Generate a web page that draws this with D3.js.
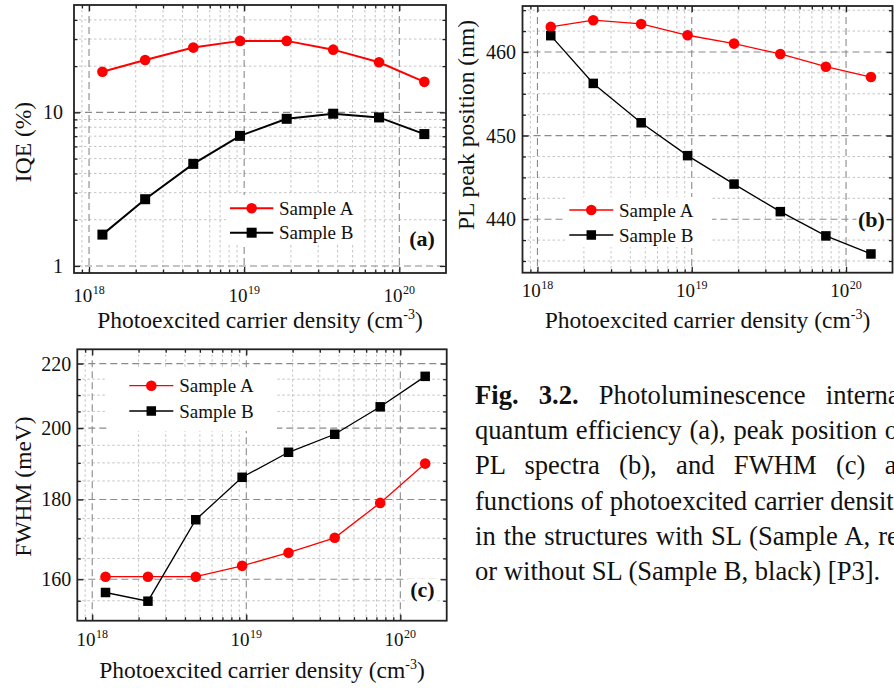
<!DOCTYPE html>
<html>
<head>
<meta charset="utf-8">
<script src="https://cdn.jsdelivr.net/npm/d3@7"></script>
<style>
  html, body { margin: 0; padding: 0; background: #fff; width: 894px; height: 688px; overflow: hidden; }
  #fig { position: absolute; left: 0; top: 0; }
  #fig text { font-family: "Liberation Serif", "Times New Roman", serif; }
  #caption {
    position: absolute; left: 475px; top: 377.7px; width: 419px; overflow: hidden;
    font-family: "Liberation Serif", "Times New Roman", serif; font-size: 26.6px;
    line-height: 35.3px; color: #111;
  }
  #caption .ln { width: 432px; text-align: justify; text-align-last: justify; }
  #caption .ln.wide { width: 446px; }
  #caption .ln.end { text-align: left; text-align-last: left; }
</style>
</head>
<body>
<svg id="fig" width="894" height="688"></svg>
<div id="caption">
  <div class="ln"><b>Fig. 3.2.</b> Photoluminescence internal</div>
  <div class="ln">quantum efficiency (a), peak position of</div>
  <div class="ln">PL spectra (b), and FWHM (c) as</div>
  <div class="ln">functions of photoexcited carrier density</div>
  <div class="ln wide">in the structures with SL (Sample A, red)</div>
  <div class="ln end">or without SL (Sample B, black) [P3].</div>
</div>
<script>
// ---- data -------------------------------------------------------------
const density = [1.22e18, 2.3e18, 4.7e18, 9.4e18, 1.88e19, 3.75e19, 7.4e19, 1.45e20];

const iqeA  = [18.4, 21.9, 26.4, 29.2, 29.2, 25.6, 21.2, 15.8];
const iqeB  = [1.6, 2.72, 4.62, 7.03, 9.08, 9.8, 9.27, 7.22];

const peakA = [463.0, 463.8, 463.35, 462.0, 461.0, 459.76, 458.24, 457.0];
const peakB = [461.95, 456.24, 451.53, 447.6, 444.2, 440.9, 438.0, 435.84];

const fwhmA = [160.6, 160.6, 160.6, 163.2, 166.4, 170.1, 179.1, 189.8];
const fwhmB = [156.9, 154.9, 174.7, 186.0, 193.0, 198.2, 206.4, 215.9];

const seriesNames  = ["Sample A", "Sample B"];
const seriesColors = ["#ff0000", "#000000"];

const xMajorTicks   = [1e18, 1e19, 1e20];
const xTickExponent = ["18", "19", "20"];

const iqeTicks  = [1, 10];
const peakTicks = [440, 450, 460];
const fwhmTicks = [160, 180, 200, 220];

const panelTags = ["(a)", "(b)", "(c)"];
const yTitles   = ["IQE (%)", "PL peak position (nm)", "FWHM (meV)"];
const xTitle    = "Photoexcited carrier density (cm";
const xTitleSup = "-3";

// ---- helpers ----------------------------------------------------------
const SERIF = '"Liberation Serif", "Times New Roman", serif';
const svg = d3.select("#fig");

const xMinorTicks = [9e17];
[1e18, 1e19].forEach(d => { for (let k = 2; k <= 9; k++) xMinorTicks.push(k * d); });

function range(a, b, step) { const out = []; for (let v = a; v <= b + 1e-9; v += step) out.push(+v.toFixed(3)); return out; }

const panels = [
  {
    box: { x: 74, y: 5, w: 372, h: 268 },
    yScale: d3.scaleLog().domain([0.9, 50]),
    yMajor: iqeTicks,
    yMinor: [2, 3, 4, 5, 6, 7, 8, 9, 20, 30, 40],
    ySeries: [iqeA, iqeB],
    lineW: 2.0, r: 5.3, sq: 10,
    yLabelGap: 11, xLabelDy: 29,
    tag: panelTags[0], tagPos: [422, 246],
    yTitle: yTitles[0], yTitleX: 31, yTitleY: 142,
    xTitleY: 328,
    legend: { box: [226, 195, 136, 50], rows: [208.3, 232.7], x1: 230, x2: 273.3, text: 279 }
  },
  {
    box: { x: 522.5, y: 6, w: 370, h: 266.7 },
    yScale: d3.scaleLinear().domain([433.6, 465.5]),
    yMajor: peakTicks,
    yMinor: range(435, 465, 2.5).filter(v => v % 10 !== 0),
    ySeries: [peakA, peakB],
    lineW: 1.3, r: 5.3, sq: 9.5,
    yLabelGap: 6.5, xLabelDy: 24,
    tag: panelTags[1], tagPos: [871.5, 226.7],
    yTitle: yTitles[1], yTitleX: 473.5, yTitleY: 125,
    xTitleY: 328.3,
    legend: { box: [565, 197, 147, 50], rows: [210, 235], x1: 569.3, x2: 613.3, text: 619 }
  },
  {
    box: { x: 77.3, y: 349.3, w: 369.4, h: 271.4 },
    yScale: d3.scaleLog().domain([150.5, 224.7]),
    yMajor: fwhmTicks,
    yMinor: range(155, 215, 5).filter(v => v % 20 !== 0),
    ySeries: [fwhmA, fwhmB],
    lineW: 1.3, r: 5.3, sq: 9.5,
    yLabelGap: 6, xLabelDy: 25.5,
    tag: panelTags[2], tagPos: [422.5, 596.7],
    yTitle: yTitles[2], yTitleX: 31, yTitleY: 486.5,
    xTitleY: 678,
    legend: { box: [107, 368, 170, 63], rows: [385.7, 411], x1: 129.3, x2: 173.3, text: 179.3 }
  }
];

function drawPanel(p) {
  const { x: L, y: T, w: W, h: H } = p.box;
  const x = d3.scaleLog().domain([8e17, 2e20]).range([L, L + W]);
  const y = p.yScale.range([T + H, T]);
  const g = svg.append("g");

  // grid: minor dotted, major dashed
  const grid = g.append("g").attr("fill", "none");
  grid.selectAll(".gxm").data(xMinorTicks).join("line")
    .attr("x1", d => x(d)).attr("x2", d => x(d)).attr("y1", T).attr("y2", T + H)
    .attr("stroke", "#c4c4c4").attr("stroke-width", 1).attr("stroke-dasharray", "2.5,2.5");
  grid.selectAll(".gym").data(p.yMinor).join("line")
    .attr("x1", L).attr("x2", L + W).attr("y1", d => y(d)).attr("y2", d => y(d))
    .attr("stroke", "#c4c4c4").attr("stroke-width", 1).attr("stroke-dasharray", "2.5,2.5");
  grid.selectAll(".gxM").data(xMajorTicks).join("line")
    .attr("x1", d => x(d)).attr("x2", d => x(d)).attr("y1", T).attr("y2", T + H)
    .attr("stroke", "#8a8a8a").attr("stroke-width", 1.1).attr("stroke-dasharray", "7,4");
  grid.selectAll(".gyM").data(p.yMajor).join("line")
    .attr("x1", L).attr("x2", L + W).attr("y1", d => y(d)).attr("y2", d => y(d))
    .attr("stroke", "#8a8a8a").attr("stroke-width", 1.1).attr("stroke-dasharray", "7,4");

  // legend background and panel tag background
  const lg = p.legend;
  g.append("rect").attr("x", lg.box[0]).attr("y", lg.box[1]).attr("width", lg.box[2]).attr("height", lg.box[3]).attr("fill", "#fff");
  g.append("rect").attr("x", p.tagPos[0] - 15).attr("y", p.tagPos[1] - 18).attr("width", 30).attr("height", 24).attr("fill", "#fff");

  // series
  p.ySeries.forEach((vals, i) => {
    const pts = density.map((d, k) => [d, vals[k]]);
    g.append("path").datum(pts)
      .attr("d", d3.line().x(d => x(d[0])).y(d => y(d[1])))
      .attr("fill", "none").attr("stroke", seriesColors[i]).attr("stroke-width", p.lineW);
    if (i === 0) {
      g.selectAll(null).data(pts).join("circle")
        .attr("cx", d => x(d[0])).attr("cy", d => y(d[1])).attr("r", p.r).attr("fill", seriesColors[i]);
    } else {
      g.selectAll(null).data(pts).join("rect")
        .attr("x", d => x(d[0]) - p.sq / 2).attr("y", d => y(d[1]) - p.sq / 2)
        .attr("width", p.sq).attr("height", p.sq).attr("fill", seriesColors[i]);
    }
  });

  // frame with inward ticks on all four sides
  const axes = [
    { ax: d3.axisBottom(x), tr: `translate(0,${T + H})`, maj: xMajorTicks, min: xMinorTicks },
    { ax: d3.axisTop(x), tr: `translate(0,${T})`, maj: xMajorTicks, min: xMinorTicks },
    { ax: d3.axisLeft(y), tr: `translate(${L},0)`, maj: p.yMajor, min: p.yMinor },
    { ax: d3.axisRight(y), tr: `translate(${L + W},0)`, maj: p.yMajor, min: p.yMinor }
  ];
  axes.forEach(a => {
    const gM = g.append("g").attr("transform", a.tr)
      .call(a.ax.tickValues(a.maj).tickSize(-6).tickSizeOuter(0).tickFormat(""));
    const gm = g.append("g").attr("transform", a.tr)
      .call(a.ax.tickValues(a.min).tickSize(-3.5).tickSizeOuter(0).tickFormat(""));
    [gM, gm].forEach(s => {
      s.select(".domain").remove();
      s.selectAll(".tick line").attr("stroke", "#222").attr("stroke-width", 1.3);
    });
  });
  g.append("rect").attr("x", L).attr("y", T).attr("width", W).attr("height", H)
    .attr("fill", "none").attr("stroke", "#222").attr("stroke-width", 1.8);

  // x tick labels 10^n
  xMajorTicks.forEach((v, i) => {
    const t = g.append("text").attr("font-family", SERIF).attr("fill", "#111")
      .attr("x", x(v)).attr("y", T + H + p.xLabelDy).attr("text-anchor", "middle");
    t.append("tspan").attr("font-size", 19).text("10");
    t.append("tspan").attr("font-size", 12).attr("dy", -8).attr("dx", 0.5).text(xTickExponent[i]);
  });

  // y tick labels
  g.selectAll(null).data(p.yMajor).join("text")
    .attr("font-family", SERIF).attr("font-size", 20).attr("fill", "#111")
    .attr("x", L - p.yLabelGap).attr("y", d => y(d)).attr("dy", "0.35em")
    .attr("text-anchor", "end").text(d => d);

  // axis titles
  const xt = g.append("text").attr("font-family", SERIF).attr("font-size", 23.5).attr("fill", "#111")
    .attr("x", L + W / 2).attr("y", p.xTitleY).attr("text-anchor", "middle");
  xt.append("tspan").text(xTitle);
  xt.append("tspan").attr("font-size", 14).attr("dy", -9).text(xTitleSup);
  xt.append("tspan").attr("dy", 9).text(")");

  g.append("text").attr("font-family", SERIF).attr("font-size", 23.5).attr("fill", "#111")
    .attr("transform", `translate(${p.yTitleX},${p.yTitleY}) rotate(-90)`)
    .attr("text-anchor", "middle").text(p.yTitle);

  // legend entries
  lg.rows.forEach((ry, i) => {
    g.append("line").attr("x1", lg.x1).attr("x2", lg.x2).attr("y1", ry).attr("y2", ry)
      .attr("stroke", seriesColors[i]).attr("stroke-width", p.lineW);
    const mx = (lg.x1 + lg.x2) / 2;
    if (i === 0) g.append("circle").attr("cx", mx).attr("cy", ry).attr("r", p.r).attr("fill", seriesColors[i]);
    else g.append("rect").attr("x", mx - p.sq / 2).attr("y", ry - p.sq / 2).attr("width", p.sq).attr("height", p.sq).attr("fill", seriesColors[i]);
    g.append("text").attr("font-family", SERIF).attr("font-size", 19).attr("fill", "#111")
      .attr("x", lg.text).attr("y", ry).attr("dy", "0.35em").text(seriesNames[i]);
  });

  // panel tag
  g.append("text").attr("font-family", SERIF).attr("font-size", 22).attr("font-weight", "bold").attr("fill", "#111")
    .attr("x", p.tagPos[0]).attr("y", p.tagPos[1]).attr("text-anchor", "middle").text(p.tag);
}

panels.forEach(drawPanel);
</script>
</body>
</html>
